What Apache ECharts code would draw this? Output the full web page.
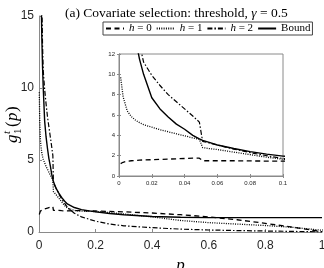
<!DOCTYPE html>
<html>
<head>
<meta charset="utf-8">
<script src="https://cdn.jsdelivr.net/npm/echarts@6/dist/echarts.min.js"></script>
<style>html,body{margin:0;padding:0;background:#fff}#c{width:324px;height:268px}</style>
</head>
<body>
<div id="c"></div>
<script>
// p values (shared x grid); a jump occurs between 0.049 and 0.051
const p = [0.001, 0.0025, 0.005, 0.0075, 0.01, 0.0125, 0.015, 0.02, 0.025, 0.03, 0.035, 0.04, 0.045, 0.049, 0.051, 0.055, 0.06, 0.07, 0.08, 0.09, 0.1, 0.125, 0.15, 0.2, 0.25, 0.3, 0.4, 0.5, 0.6, 0.7, 0.8, 0.9, 1.0];
const h0 = [1.22, 1.35, 1.45, 1.5, 1.53, 1.56, 1.58, 1.6, 1.63, 1.66, 1.69, 1.72, 1.75, 1.75, 1.5, 1.5, 1.5, 1.5, 1.48, 1.47, 1.47, 1.48, 1.48, 1.46, 1.43, 1.4, 1.32, 1.2, 1.05, 0.85, 0.6, 0.32, 0.02];
const h1 = [9.7, 7.8, 6.4, 5.85, 5.5, 5.25, 5.05, 4.8, 4.55, 4.35, 4.15, 3.95, 3.75, 3.6, 2.8, 2.7, 2.6, 2.35, 2.1, 1.85, 1.65, 1.5, 1.45, 1.42, 1.35, 1.25, 1.05, 0.8, 0.65, 0.55, 0.45, 0.32, 0.12];
const h2 = [90, 50, 28, 20, 16, 13, 11.2, 9.9, 8.9, 8.0, 7.3, 6.6, 5.9, 5.3, 3.4, 3.25, 3.05, 2.65, 2.3, 2.0, 1.72, 1.3, 1.05, 0.75, 0.55, 0.43, 0.3, 0.2, 0.14, 0.1, 0.07, 0.04, 0.01];
const bound = [60, 35, 22, 16.5, 13.5, 11.5, 10.0, 7.7, 6.6, 5.8, 5.1, 4.6, 4.0, 3.65, 3.5, 3.3, 3.05, 2.7, 2.4, 2.15, 1.95, 1.7, 1.55, 1.4, 1.28, 1.2, 1.08, 1.02, 1.0, 1.0, 1.0, 1.0, 1.0];
const seriesNames = ['h = 0', 'h = 1', 'h = 2', 'Bound'];
const mainXRange = [0, 1, 0.2];
const mainYRange = [0, 15, 5];
const insetXRange = [0, 0.1, 0.02];
const insetYRange = [0, 12, 2];

const serif = 'Liberation Serif';
const sans = 'Liberation Sans';
const styles = [
  {type: [5, 3.5], width: 1.3},
  {type: [1, 1.3], width: 1.3},
  {type: [5, 2, 1.5, 2], width: 1.2},
  {type: 'solid', width: 1.4}
];
const allVals = [h0, h1, h2, bound];

function mkSeries(i, idx) {
  return {
    name: seriesNames[i], type: 'line', xAxisIndex: idx, yAxisIndex: idx,
    data: p.map((x, k) => [x, allVals[i][k]]),
    showSymbol: false, symbol: 'none', clip: true, animation: false,
    lineStyle: {color: '#000', width: styles[i].width, type: styles[i].type},
    itemStyle: {color: '#000', opacity: 0}
  };
}
const series = [];
for (let i = 0; i < 4; i++) series.push(mkSeries(i, 0));
for (let i = 0; i < 4; i++) series.push(mkSeries(i, 1));

const axisGray = '#8a8a8a';
function valAxis(r, grid, pos, fs, margin, showLabel, tickLen) {
  return {
    type: 'value', gridIndex: grid, position: pos, min: r[0], max: r[1], interval: r[2],
    axisLine: {show: true, lineStyle: {color: axisGray, width: 1}},
    axisTick: {show: true, inside: true, length: tickLen, lineStyle: {color: axisGray}},
    axisLabel: {show: showLabel, fontSize: fs, fontFamily: sans, color: '#262626', margin: margin},
    splitLine: {show: false}
  };
}

const chart = echarts.init(document.getElementById('c'), null, {renderer: 'canvas'});
chart.setOption({
  animation: false,
  backgroundColor: '#fff',
  title: {
    text: '(a) Covariate selection: threshold, {i|γ} = 0.5',
    left: 60, top: 1,
    textStyle: {fontFamily: serif, fontSize: 13.5, fontWeight: 'normal', color: '#000',
      rich: {i: {fontFamily: serif, fontSize: 13.5, fontStyle: 'italic', color: '#000'}}}
  },
  legend: {
    data: seriesNames, left: 103, top: 22, width: 240, orient: 'horizontal',
    itemWidth: 18, itemHeight: 8, itemGap: 4, padding: [1, 2, 1, 2],
    borderColor: '#444', borderWidth: 1, backgroundColor: '#fff',
    itemStyle: {opacity: 0},
    textStyle: {fontFamily: serif, fontSize: 11, color: '#000',
      rich: {i: {fontFamily: serif, fontSize: 11, fontStyle: 'italic', color: '#000'}}},
    formatter: function (n) { return n === 'Bound' ? 'Bound' : '{i|h}' + n.slice(1); }
  },
  grid: [
    {left: 39, top: 16, width: 283, height: 216, show: false, containLabel: false, outerBoundsMode: 'none'},
    {left: 119, top: 54, width: 164, height: 122, show: true, borderColor: axisGray, borderWidth: 1, backgroundColor: 'rgba(0,0,0,0)', containLabel: false, outerBoundsMode: 'none'}
  ],
  xAxis: [
    Object.assign(valAxis(mainXRange, 0, 'bottom', 12, 8, true, 3), {
      name: 'p', nameLocation: 'middle', nameGap: 20,
      nameTextStyle: {fontFamily: serif, fontSize: 17, fontStyle: 'italic', color: '#000'}
    }),
    valAxis(insetXRange, 1, 'bottom', 6, 4, true, 2),
    valAxis(insetXRange, 1, 'top', 6, 4, false, 2)
  ],
  yAxis: [
    valAxis(mainYRange, 0, 'left', 12, 5, true, 3),
    valAxis(insetYRange, 1, 'left', 6, 4, true, 2),
    valAxis(insetYRange, 1, 'right', 6, 4, false, 2)
  ],
  graphic: [{
    type: 'group', x: 13, y: 143, rotation: Math.PI / 2,
    children: [
      {type: 'text', x: 0, y: 0, style: {text: 'g', font: 'italic 17px "Liberation Serif"', fill: '#000', textVerticalAlign: 'middle'}},
      {type: 'text', x: 9, y: -6, style: {text: 't', font: 'italic 11px "Liberation Serif"', fill: '#000', textVerticalAlign: 'middle'}},
      {type: 'text', x: 9, y: 5, style: {text: '1', font: '11px "Liberation Serif"', fill: '#000', textVerticalAlign: 'middle'}},
      {type: 'text', x: 16, y: 0, style: {text: '(', font: '17px "Liberation Serif"', fill: '#000', textVerticalAlign: 'middle'}},
      {type: 'text', x: 22, y: 0, style: {text: 'p', font: 'italic 17px "Liberation Serif"', fill: '#000', textVerticalAlign: 'middle'}},
      {type: 'text', x: 31, y: 0, style: {text: ')', font: '17px "Liberation Serif"', fill: '#000', textVerticalAlign: 'middle'}}
    ]
  }],
  series: series
});
</script>
</body>
</html>
